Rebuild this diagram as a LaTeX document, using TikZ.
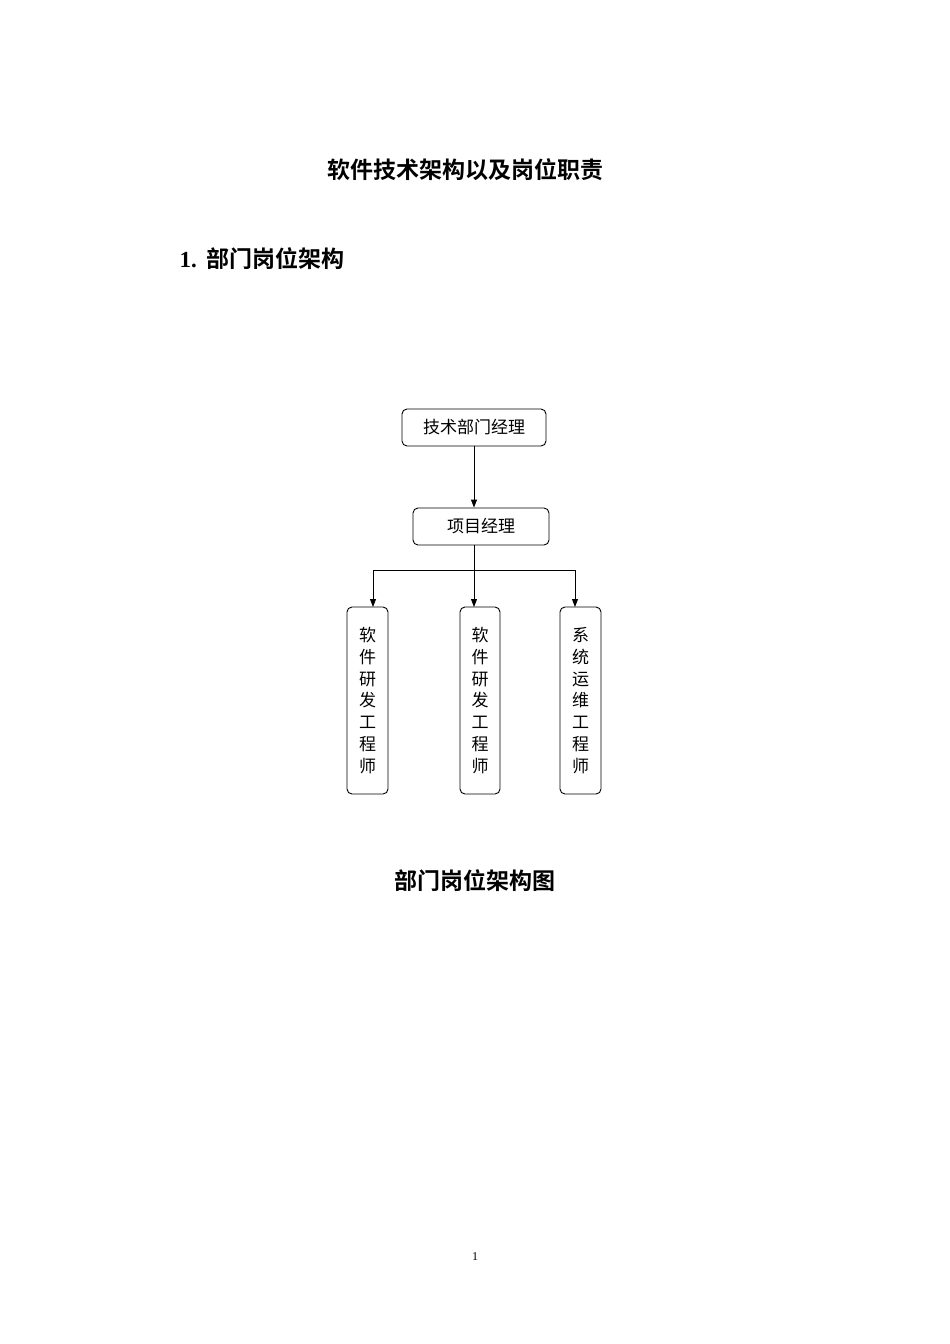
\documentclass[tikz,border=0pt]{standalone}
\usepackage{fontspec}
\setmainfont{Liberation Serif}
\newfontfamily\cjk{Noto Sans CJK SC}[BoldFont={Noto Sans CJK SC Bold}]
\usetikzlibrary{arrows.meta}
\begin{document}
\begin{tikzpicture}[x=1pt,y=-1pt,
  box/.style={draw,rounded corners=5pt,line width=0.9pt,inner sep=0pt,font=\cjk\fontsize{17}{20}\selectfont},
  vbox/.style={box,font=\cjk\fontsize{17}{21.8}\selectfont,align=center},
  conn/.style={line width=0.9pt},
  arr/.style={conn,-{Triangle[length=8pt,width=6pt]}}]
\useasboundingbox (0,0) rectangle (950,1344);
\node (title) at (465,170) {\cjk\bfseries\fontsize{23}{26}\selectfont 软件技术架构以及岗位职责};
\node[anchor=west] (head) at (176,259) {\bfseries\fontsize{23}{26}\selectfont 1.\hspace{10pt}{\cjk 部门岗位架构}};
\node[box,minimum width=144pt,minimum height=37pt] (m) at (474,427.5) {技术部门经理};
\node[box,minimum width=136pt,minimum height=37pt] (p) at (481,526.5) {项目经理};
\node[vbox,minimum width=41pt,minimum height=187pt] (e1) at (367.5,700.5) {软\\件\\研\\发\\工\\程\\师};
\node[vbox,minimum width=40pt,minimum height=187pt] (e2) at (480,700.5) {软\\件\\研\\发\\工\\程\\师};
\node[vbox,minimum width=41pt,minimum height=187pt] (e3) at (580.5,700.5) {系\\统\\运\\维\\工\\程\\师};
\draw[arr] (m.south) -- (m.south |- p.north);
\coordinate (j) at (474,570);
\draw[conn] (p.south -| j) -- (j);
\draw[arr] (j) -| (373,607);
\draw[arr] (j) -- (474,607);
\draw[arr] (j) -| (575,607);
\node (cap) at (475,881) {\cjk\bfseries\fontsize{23}{26}\selectfont 部门岗位架构图};
\node (pg) at (475,1257) {\fontsize{12}{14}\selectfont 1};
\end{tikzpicture}
\end{document}
